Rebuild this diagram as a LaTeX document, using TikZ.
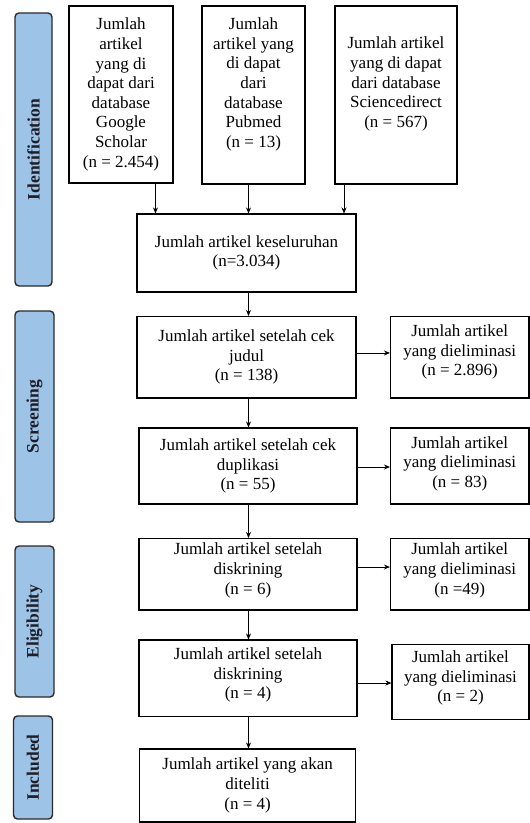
\documentclass[tikz,border=0pt]{standalone}
\usepackage{fontspec}
\setmainfont{Liberation Serif}
\usetikzlibrary{arrows.meta,calc}
\definecolor{sidefill}{HTML}{9DC3E6}
\definecolor{sideline}{HTML}{2A2A2A}
\definecolor{sidetext}{HTML}{1E1E28}
\begin{document}
\begin{tikzpicture}[x=1pt,y=-1pt,
  box/.style={draw=black,line width=1.1pt,rectangle,inner sep=0pt,align=center,
    font=\fontsize{17}{19.6}\selectfont},
  txt/.style={inner sep=0pt,align=center,font=\fontsize{17}{19.6}\selectfont},
  side/.style={draw=sideline,fill=sidefill,line width=1.4pt,rounded corners=4pt,
    rotate=90,inner sep=0pt,text=sidetext,font=\fontsize{17.5}{20}\selectfont\bfseries},
  arr/.style={line width=0.9pt,-{Stealth[length=6pt,width=5pt]}}]
\useasboundingbox (0,0) rectangle (530,823);
% phase labels
\node[side,minimum width=273pt,minimum height=37pt] (pid) at (33.5,149.5) {Identification};
\node[side,minimum width=211pt,minimum height=39pt] (psc) at (34.5,416.5) {Screening};
\node[side,minimum width=151pt,minimum height=39pt] (pel) at (34.5,621.5) {Eligibility};
\node[side,minimum width=103pt,minimum height=39pt] (pin) at (33,767.5) {Included};
% identification boxes
\node[box,minimum width=104pt,minimum height=177pt] (gs) at (121,94.5)
  {Jumlah\\artikel\\yang di\\dapat dari\\database\\Google\\Scholar\\(n = 2.454)};
\node[box,minimum width=103pt,minimum height=178pt] (pm) at (253.5,95) {};
\node[txt] (pmt) at (253.5,84.5) {Jumlah\\artikel yang\\di dapat\\dari\\database\\Pubmed\\(n = 13)};
\node[box,minimum width=122pt,minimum height=178pt] (sd) at (396,95) {};
\node[txt] (sdt) at (396,84) {Jumlah artikel\\yang di dapat\\dari database\\Sciencedirect\\(n = 567)};
\node[box,minimum width=219pt,minimum height=78pt] (tot) at (246.5,253)
  {Jumlah artikel keseluruhan\\(n=3.034)};
% screening
\node[box,minimum width=219pt,minimum height=81.5pt] (s1) at (246.5,357.25)
  {Jumlah artikel setelah cek\\judul\\(n = 138)};
\node[box,minimum width=138.5pt,minimum height=81.5pt] (e1) at (459.75,357.25) {};
\node[txt] (e1t) at (459.75,352) {Jumlah artikel\\yang dieliminasi\\(n = 2.896)};
\node[box,minimum width=218pt,minimum height=76pt] (s2) at (248,466)
  {Jumlah artikel setelah cek\\duplikasi\\(n = 55)};
\node[box,minimum width=138.5pt,minimum height=76pt] (e2) at (459.75,466) {};
\node[txt] (e2t) at (459.75,463.6) {Jumlah artikel\\yang dieliminasi\\(n = 83)};
% eligibility
\node[box,minimum width=218pt,minimum height=71.4pt] (s3) at (248,574.3) {};
\node[txt] (s3t) at (248,570.5) {Jumlah artikel setelah\\diskrining\\(n = 6)};
\node[box,minimum width=138.5pt,minimum height=71.4pt] (e3) at (459.75,574.3) {};
\node[txt] (e3t) at (459.75,570.5) {Jumlah artikel\\yang dieliminasi\\(n =49)};
\node[box,minimum width=218pt,minimum height=76.5pt] (s4) at (248,678.25) {};
\node[txt] (s4t) at (248,675) {Jumlah artikel setelah\\diskrining\\(n = 4)};
\node[box,minimum width=137pt,minimum height=75pt] (e4) at (460.5,682) {};
\node[txt] (e4t) at (460.5,678) {Jumlah artikel\\yang dieliminasi\\(n = 2)};
% included
\node[box,minimum width=216pt,minimum height=73pt] (fin) at (247.6,785.5)
  {Jumlah artikel yang akan\\diteliti\\(n = 4)};
% connectors
\coordinate (c1) at (155.5,214);
\coordinate (c2) at (248.5,214);
\coordinate (c3) at (344,214);
\coordinate (col) at (248.5,0);
\draw[arr] (gs.south -| c1) -- (tot.north -| c1);
\draw[arr] (pm.south -| c2) -- (tot.north -| c2);
\draw[arr] (sd.south -| c3) -- (tot.north -| c3);
\draw[arr] (tot.south -| col) -- (s1.north -| col);
\draw[arr] (s1.south -| col) -- (s2.north -| col);
\draw[arr] (s2.south -| col) -- (s3.north -| col);
\draw[arr] (s3.south -| col) -- (s4.north -| col);
\draw[arr] (s4.south -| col) -- (fin.north -| col);
\draw[arr] ([yshift=4.3pt]s1.east) -- ([yshift=4.3pt]s1.east -| e1.west);
\draw[arr] ([yshift=-1pt]s2.east) -- ([yshift=-1pt]s2.east -| e2.west);
\draw[arr] ([yshift=7.3pt]s3.east) -- ([yshift=7.3pt]s3.east -| e3.west);
\draw[arr] ([yshift=-4.75pt]s4.east) -- ([yshift=-4.75pt]s4.east -| e4.west);
\end{tikzpicture}
\end{document}
